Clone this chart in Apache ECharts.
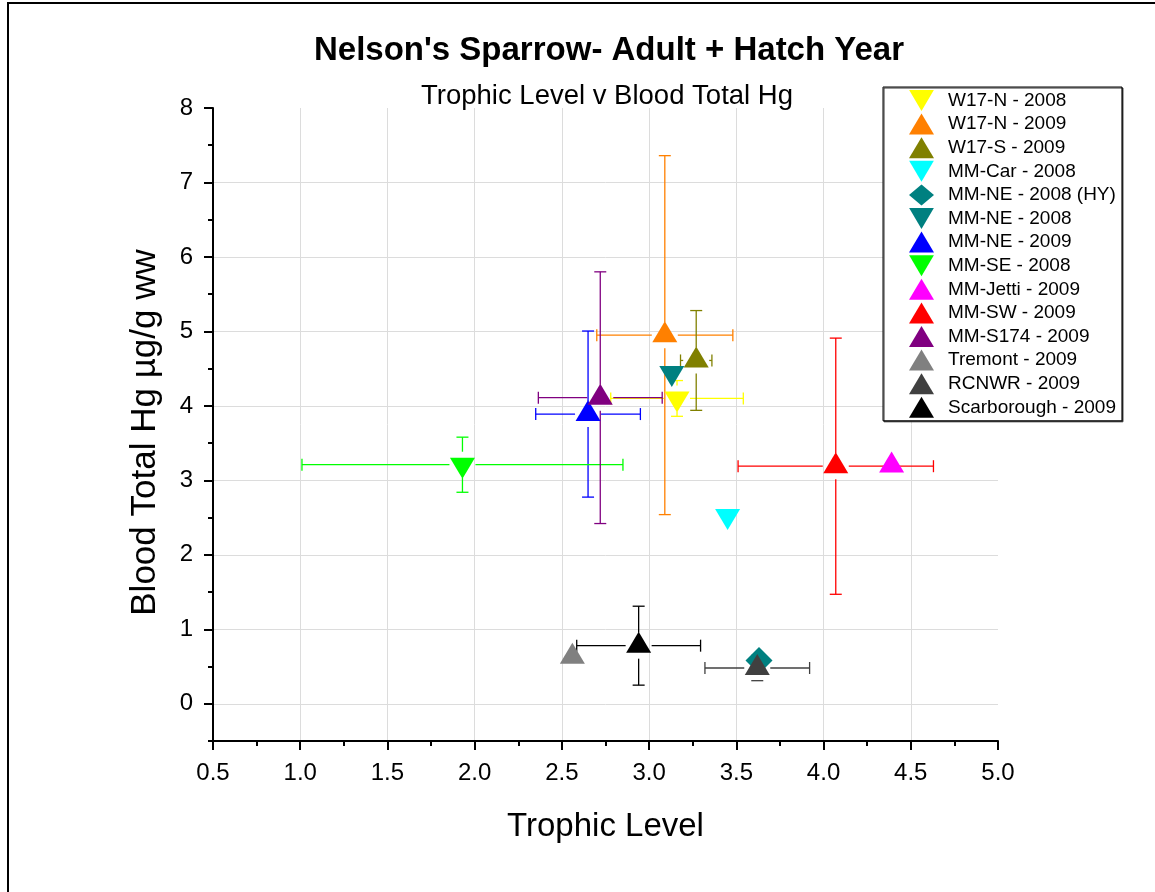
<!DOCTYPE html>
<html lang="en">
<head>
    <meta charset="utf-8">
    <title>Nelson's Sparrow - Trophic Level v Blood Total Hg</title>
    <script src="https://cdn.jsdelivr.net/npm/echarts@6/dist/echarts.min.js"></script>
    <style>
        body { margin: 0; background: #fff; }
    </style>
</head>
<body>
<div id="main" style="width: 1155px;height:892px;"></div>

<script type="text/javascript">
    // site / year groups, same order as the legend
    var sites = ['W17-N - 2008', 'W17-N - 2009', 'W17-S - 2009', 'MM-Car - 2008', 'MM-NE - 2008 (HY)',
        'MM-NE - 2008', 'MM-NE - 2009', 'MM-SE - 2008', 'MM-Jetti - 2009', 'MM-SW - 2009',
        'MM-S174 - 2009', 'Tremont - 2009', 'RCNWR - 2009', 'Scarborough - 2009'];
    var trophicLevel = [3.16, 3.09, 3.27, 3.45, 3.63, 3.13, 2.65, 1.93, 4.39, 4.07, 2.72, 2.56, 3.62, 2.94];
    var bloodHg = [4.10, 4.95, 4.61, 2.52, 0.58, 4.44, 3.89, 3.21, 3.20, 3.19, 4.11, 0.63, 0.48, 0.78];
    var trophicErr = [0.38, 0.39, 0.09, 0, 0, 0, 0.30, 0.92, 0, 0.56, 0.355, 0, 0.30, 0.355];
    var hgErr = [0.24, 2.41, 0.67, 0, 0, 0, 1.115, 0.37, 0, 1.72, 1.69, 0, 0.17, 0.53];
    var colors = ['#ffff00', '#ff8000', '#808000', '#00ffff', '#008080', '#008080', '#0000ff',
        '#00ff00', '#ff00ff', '#ff0000', '#800080', '#808080', '#404040', '#000000'];
    var shapes = ['down', 'up', 'up', 'down', 'diamond', 'down', 'up', 'down', 'up', 'up', 'up', 'up', 'up', 'up'];
    var yTicks = [0, 1, 2, 3, 4, 5, 6, 7, 8];

    var FONT = "'Liberation Sans', Arial, sans-serif";
    var DOWN = 'path://M0,0L20,0L10,17Z';

    var myChart = echarts.init(document.getElementById('main'));

    // error bars: gap round the marker, caps at the ends
    function renderErr(params, api) {
        var x = api.value(0), y = api.value(1), ex = api.value(2), ey = api.value(3);
        var color = colors[api.value(4)];
        var c = api.coord([x, y]);
        var gap = 13, cap = 6;
        var kids = [];
        function seg(x1, y1, x2, y2) {
            kids.push({type: 'line', shape: {x1: x1, y1: y1, x2: x2, y2: y2},
                style: {stroke: color, lineWidth: 1.3}});
        }
        if (ex > 0) {
            var l = api.coord([x - ex, y])[0], r = api.coord([x + ex, y])[0];
            if (c[0] - l > gap) seg(l, c[1], c[0] - gap, c[1]);
            if (r - c[0] > gap) seg(c[0] + gap, c[1], r, c[1]);
            seg(l, c[1] - cap, l, c[1] + cap);
            seg(r, c[1] - cap, r, c[1] + cap);
        }
        if (ey > 0) {
            var t = api.coord([x, y + ey])[1], b = api.coord([x, y - ey])[1];
            if (c[1] - t > gap) seg(c[0], t, c[0], c[1] - gap);
            if (b - c[1] > gap) seg(c[0], c[1] + gap, c[0], b);
            seg(c[0] - cap, t, c[0] + cap, t);
            seg(c[0] - cap, b, c[0] + cap, b);
        }
        return {type: 'group', children: kids};
    }

    var errData = [];
    for (var i = 0; i < sites.length; i++) {
        if (trophicErr[i] > 0 || hgErr[i] > 0) {
            errData.push([trophicLevel[i], bloodHg[i], trophicErr[i], hgErr[i], i]);
        }
    }

    var series = [{
        type: 'custom',
        name: 'err',
        renderItem: renderErr,
        encode: {x: 0, y: 1},
        data: errData,
        z: 2,
        silent: true
    }];

    sites.forEach(function (name, i) {
        var s = shapes[i];
        series.push({
            type: 'scatter',
            name: name,
            data: [[trophicLevel[i], bloodHg[i]]],
            symbol: s === 'up' ? 'triangle' : (s === 'down' ? DOWN : 'diamond'),
            symbolSize: s === 'diamond' ? [27, 27] : [25, 21],
            symbolOffset: s === 'up' ? [0, -3.5] : (s === 'down' ? [0, 3.5] : [0, 0]),
            itemStyle: {color: colors[i], opacity: 1},
            z: 3 + i
        });
    });

    var option = {
        backgroundColor: '#fff',
        animation: false,
        title: [{
            text: "Nelson's Sparrow- Adult + Hatch Year",
            left: 604, top: 29, textAlign: 'center',
            textStyle: {fontFamily: FONT, fontSize: 33, fontWeight: 'bold', color: '#000'}
        }, {
            text: 'Trophic Level v Blood Total Hg',
            left: 602, top: 77, textAlign: 'center',
            textStyle: {fontFamily: FONT, fontSize: 27.5, fontWeight: 'normal', color: '#000'}
        }],
        graphic: [{
            type: 'rect',
            shape: {x: 8, y: 3, width: 1300, height: 1000},
            style: {fill: 'none', stroke: '#000', lineWidth: 2},
            silent: true
        }],
        legend: {
            data: sites,
            orient: 'vertical',
            left: 883, top: 87,
            itemWidth: 25, itemHeight: 21, itemGap: 2.6,
            padding: [3, 6, 3, 26],
            backgroundColor: '#fff',
            borderColor: '#000', borderWidth: 1,
            shadowColor: '#333', shadowOffsetX: 1, shadowOffsetY: 1, shadowBlur: 0,
            textStyle: {fontFamily: FONT, fontSize: 19, color: '#000', padding: [0, 0, 0, 9]}
        },
        grid: {left: 213, right: 157, top: 108, bottom: 151},
        xAxis: {
            type: 'value',
            min: 0.5, max: 5, interval: 0.5,
            name: 'Trophic Level',
            nameLocation: 'middle', nameGap: 69,
            nameTextStyle: {fontFamily: FONT, fontSize: 33, color: '#000'},
            axisLine: {onZero: false, lineStyle: {color: '#000', width: 2}},
            axisTick: {show: true, inside: false, length: 9, lineStyle: {color: '#000', width: 2}},
            minorTick: {show: true, splitNumber: 2, length: 5, lineStyle: {color: '#000', width: 2}},
            axisLabel: {fontFamily: FONT, fontSize: 24, color: '#000', margin: 20,
                formatter: function (v) { return v.toFixed(1); }},
            splitLine: {show: true, showMaxLine: false, lineStyle: {color: '#dcdcdc', width: 1}}
        },
        yAxis: [{
            type: 'value',
            min: -0.5, max: 8, interval: 0.5,
            name: 'Blood Total Hg \u00b5g/g ww',
            nameLocation: 'middle', nameGap: 50, nameRotate: 90,
            nameTextStyle: {fontFamily: FONT, fontSize: 35, color: '#000', padding: [0, 16, 0, 0]},
            axisLine: {onZero: false, lineStyle: {color: '#000', width: 2}},
            axisTick: {show: true, length: 9, customValues: yTicks, lineStyle: {color: '#000', width: 2}},
            axisLabel: {fontFamily: FONT, fontSize: 24, color: '#000', margin: 20, customValues: yTicks},
            splitLine: {show: true, showMaxLine: false, lineStyle: {color: '#dcdcdc', width: 1}}
        }, {
            type: 'value',
            position: 'left',
            min: -0.5, max: 8, interval: 0.5,
            axisLine: {show: false, onZero: false},
            axisTick: {show: true, length: 5, lineStyle: {color: '#000', width: 2}},
            axisLabel: {show: false},
            splitLine: {show: false}
        }],
        series: series
    };

    option && myChart.setOption(option);
</script>
</body>
</html>
